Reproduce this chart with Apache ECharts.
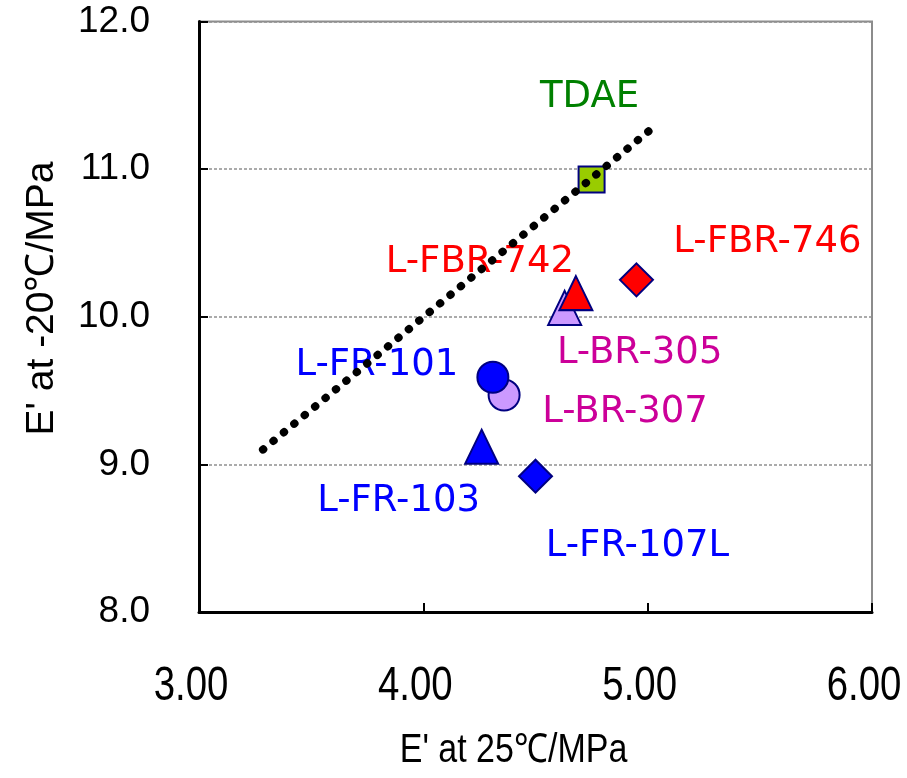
<!DOCTYPE html>
<html>
<head>
<meta charset="utf-8">
<script src="https://cdn.jsdelivr.net/npm/echarts@6/dist/echarts.min.js"></script>
<style>
  html, body { margin: 0; padding: 0; background: #fff; overflow: hidden; }
  #chart { width: 907px; height: 778px; }
</style>
</head>
<body>
<div id="chart"></div>
<script>
// Storage modulus at 25 °C (x) vs -20 °C (y) for each oil grade
const names   = ['TDAE', 'L-FBR-746', 'L-BR-305', 'L-FBR-742', 'L-BR-307', 'L-FR-101', 'L-FR-103', 'L-FR-107L'];
const xValues = [4.75, 4.95, 4.63, 4.68, 4.36, 4.31, 4.26, 4.50];
const yValues = [10.93, 10.25, 10.06, 10.16, 9.47, 9.59, 9.12, 8.92];

// trend line end points
const trendX = [3.285, 5.015];
const trendY = [9.10, 11.27];

const xTicks = [3, 4, 5, 6];
const yTicks = [8, 9, 10, 11, 12];

const xTitle = "E' at 25℃/MPa";
const yTitle = "E' at -20℃/MPa";

// marker and label styling per grade
const look = {
  'TDAE':      { symbol: 'rect',     size: 26,       fill: '#99cc00', text: '#008000', off: [-2, -82] },
  'L-FBR-746': { symbol: 'diamond',  size: 33,       fill: '#ff0000', text: '#ff0000', off: [131, -37] },
  'L-BR-305':  { symbol: 'triangle', size: [33, 34], fill: '#cc99ff', text: '#cc0099', off: [75, 45] },
  'L-FBR-742': { symbol: 'triangle', size: [33, 34], fill: '#ff0000', text: '#ff0000', off: [-96, -31] },
  'L-BR-307':  { symbol: 'circle',   size: 31,       fill: '#cc99ff', text: '#cc0099', off: [121, 17] },
  'L-FR-101':  { symbol: 'circle',   size: 31,       fill: '#0000ff', text: '#0000ff', off: [-116, -12] },
  'L-FR-103':  { symbol: 'triangle', size: [33, 34], fill: '#0000ff', text: '#0000ff', off: [-83, 55] },
  'L-FR-107L': { symbol: 'diamond',  size: 33,       fill: '#0000ff', text: '#0000ff', off: [102, 70] }
};

const pointSeries = names.map((n, i) => {
  const s = look[n];
  return {
    type: 'scatter',
    name: n,
    z: 2 + i,
    symbol: s.symbol,
    symbolSize: s.size,
    itemStyle: { color: s.fill, borderColor: '#000080', borderWidth: 2, opacity: 1 },
    label: {
      show: true,
      position: 'inside',
      offset: s.off,
      formatter: n,
      color: s.text,
      fontFamily: 'DejaVu Sans',
      fontSize: 37,
      align: 'center',
      verticalAlign: 'middle'
    },
    emphasis: { disabled: true },
    data: [[xValues[i], yValues[i]]]
  };
});

const trendSeries = {
  type: 'line',
  z: 20,
  symbol: 'none',
  silent: true,
  lineStyle: { color: '#000', width: 8, type: [0.5, 13], cap: 'round' },
  data: trendX.map((x, i) => [x, trendY[i]])
};

const chart = echarts.init(document.getElementById('chart'));
chart.setOption({
  animation: false,
  backgroundColor: '#fff',
  grid: {
    left: 199, top: 21.5, right: 35, bottom: 166,
    outerBoundsMode: 'none',
    containLabel: false,
    show: true, borderColor: '#8c8c8c', borderWidth: 2, backgroundColor: 'transparent'
  },
  xAxis: {
    type: 'value',
    min: xTicks[0], max: xTicks[xTicks.length - 1], interval: 1,
    axisLine: { show: true, onZero: false, lineStyle: { color: '#000', width: 3 } },
    axisTick: { show: true, inside: true, length: 9, lineStyle: { color: '#000', width: 2 } },
    splitLine: { show: false },
    axisLabel: { show: false }
  },
  yAxis: {
    type: 'value',
    min: yTicks[0], max: yTicks[yTicks.length - 1], interval: 1,
    axisLine: { show: true, onZero: false, lineStyle: { color: '#000', width: 3 } },
    axisTick: { show: true, inside: true, length: 9, lineStyle: { color: '#000', width: 2 } },
    splitLine: { show: true, lineStyle: { color: '#909090', width: 1.5, type: [3, 2] } },
    axisLabel: {
      margin: 49,
      color: '#000',
      fontFamily: 'Liberation Sans',
      fontSize: 37,
      formatter: v => v.toFixed(1)
    }
  },
  series: [...pointSeries, trendSeries]
});

// Condensed x tick labels and axis titles, placed through the axis scales
const baseY = chart.convertToPixel({ gridIndex: 0 }, [xTicks[0], yTicks[0]])[1];
const xMid = chart.convertToPixel({ gridIndex: 0 }, [(xTicks[0] + xTicks[xTicks.length - 1]) / 2, yTicks[0]])[0];
const topY = chart.convertToPixel({ gridIndex: 0 }, [xTicks[0], yTicks[yTicks.length - 1]])[1];
const graphics = xTicks.map(t => ({
  type: 'text',
  x: chart.convertToPixel({ gridIndex: 0 }, [t, yTicks[0]])[0] - 8,
  y: baseY + 75,
  scaleX: 0.8,
  style: {
    text: t.toFixed(2),
    fontFamily: 'Liberation Sans',
    fontSize: 48,
    fill: '#000',
    align: 'center',
    verticalAlign: 'middle'
  }
}));
graphics.push({
  type: 'text',
  x: xMid - 22, y: baseY + 139,
  scaleX: 0.85,
  style: {
    text: xTitle,
    fontFamily: 'Liberation Sans',
    fontSize: 40,
    fill: '#000',
    align: 'center',
    verticalAlign: 'middle'
  }
});
graphics.push({
  type: 'text',
  x: 42, y: topY + 277,
  rotation: Math.PI / 2,
  style: {
    text: yTitle,
    fontFamily: 'Liberation Sans',
    fontSize: 39,
    fill: '#000',
    align: 'center',
    verticalAlign: 'middle'
  }
});
chart.setOption({ graphic: graphics });
</script>
</body>
</html>
